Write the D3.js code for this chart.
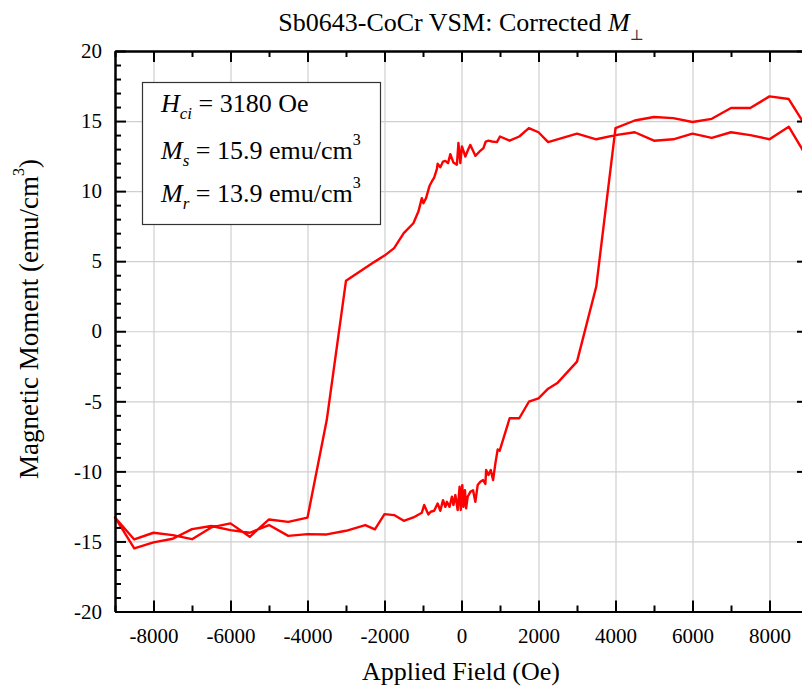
<!DOCTYPE html>
<html>
<head>
<meta charset="utf-8">
<script src="https://cdn.jsdelivr.net/npm/d3@7/dist/d3.min.js"></script>
<style>
  html, body { margin: 0; padding: 0; background: #fff; }
  svg { display: block; }
  text { font-family: "Liberation Serif", "Times New Roman", serif; fill: #000; }
</style>
</head>
<body>
<svg id="chart" width="802" height="688"></svg>
<script>
// Descending branch (+H -> -H)
const descField = [9000, 8500, 8000, 7500, 7000, 6500, 6000, 5500, 5000, 4500, 4000, 3500, 3000, 2250, 2000, 1750, 1500, 1250, 1000,
  920, 790, 700, 630, 570, 470, 360, 230, 170, 100, 10, -30, -80, -120, -210, -290, -350, -420, -480, -550, -620, -640,
  -710, -770, -830, -860, -920, -990, -1030, -1120, -1250, -1500, -1750, -2000, -2250, -3000, -3500, -4000,
  -4500, -5000, -5500, -6000, -6500, -7000, -7500, -8000, -8500, -9000];
const descMoment = [12.3, 14.6, 13.7, 14.0, 14.2, 13.8, 14.1, 13.7, 13.6, 14.2, 14.0, 13.7, 14.1, 13.5, 14.2, 14.5, 13.9, 13.6, 13.9,
  13.5, 13.54, 13.6, 13.54, 13.07, 12.83, 12.52, 13.3, 12.95, 12.47, 13.19, 12.0, 13.43, 11.88, 12.04, 12.64, 12.0, 12.16, 12.11, 11.71, 11.95, 11.57,
  10.97, 10.69, 10.38, 10.09, 9.5, 9.14, 9.5, 8.54, 7.71, 7.0, 5.93, 5.4, 4.97, 3.61, -6.34, -13.3,
  -13.6, -13.43, -14.67, -13.71, -14.0, -14.84, -14.55, -14.38, -14.86, -13.29];

// Ascending branch (-H -> +H)
const ascField = [-9000, -8500, -8000, -7500, -7000, -6500, -6000, -5500, -5000, -4500, -4000, -3500, -3000, -2500, -2250, -2000, -1750, -1500, -1250,
  -1030, -970, -860, -800, -710, -620, -550, -480, -420, -380, -310, -250, -210, -160, -100, -50, -20, 20, 50, 90, 120, 160,
  230, 300, 360, 420, 490, 560, 620, 640, 700, 760, 820, 880, 940, 990,
  1250, 1500, 1750, 2000, 2250, 2500, 3000, 3500, 4000, 4500, 5000, 5500, 6000, 6500, 7000, 7500, 8000, 8500, 9000];
const ascMoment = [-13.29, -15.5, -15.07, -14.81, -14.12, -13.9, -14.19, -14.38, -13.83, -14.6, -14.48, -14.5, -14.24, -13.83, -14.14, -13.05, -13.12, -13.53, -13.29,
  -12.95, -12.4, -13.07, -12.88, -12.81, -12.29, -12.81, -12.05, -12.53, -12.17, -12.53, -11.81, -12.41, -11.69, -12.76, -11.1, -12.76, -10.98, -12.53, -11.34, -12.64, -11.81,
  -11.46, -11.34, -12.17, -10.98, -10.74, -10.62, -10.9, -9.9, -10.26, -9.9, -10.62, -9.43, -8.43, -8.53,
  -6.21, -6.21, -5.03, -4.79, -4.1, -3.67, -2.17, 3.19, 14.5, 15.04, 15.29, 15.21, 14.93, 15.16, 15.93, 15.93, 16.76, 16.57, 14.38];

const xTicks = [-8000, -6000, -4000, -2000, 0, 2000, 4000, 6000, 8000];
const xMinorTicks = [-9000, -7000, -5000, -3000, -1000, 1000, 3000, 5000, 7000, 9000];
const yTicks = [-20, -15, -10, -5, 0, 5, 10, 15, 20];
const yMinorTicks = d3.range(-20, 21, 1).filter(v => v % 5 !== 0);

const titleText = "Sb0643-CoCr VSM: Corrected ";
const xTitle = "Applied Field (Oe)";
const yTitle = "Magnetic Moment (emu/cm";
const hciText = " = 3180 Oe";
const msText = " = 15.9 emu/cm";
const mrText = " = 13.9 emu/cm";

const svg = d3.select("#chart");
const plotL = 115, plotR = 808, plotT = 51, plotB = 611.5;

const x = d3.scaleLinear().domain([-9000, 9000]).range([plotL, plotR]);
const y = d3.scaleLinear().domain([-20, 20]).range([plotB, plotT]);

// grid
svg.append("g").attr("transform", `translate(0,${plotB})`)
  .call(d3.axisBottom(x).tickValues(xTicks).tickSize(-(plotB - plotT)).tickFormat(""))
  .call(g => g.select(".domain").remove())
  .call(g => g.selectAll("line").attr("stroke", "#cfcfcf").attr("stroke-width", 1.2));
svg.append("g").attr("transform", `translate(${plotL},0)`)
  .call(d3.axisLeft(y).tickValues(yTicks).tickSize(-(plotR - plotL)).tickFormat(""))
  .call(g => g.select(".domain").remove())
  .call(g => g.selectAll("line").attr("stroke", "#cfcfcf").attr("stroke-width", 1.2));

// hysteresis loop
const line = d3.line().x(d => x(d[0])).y(d => y(d[1]));
const descPts = descField.map((f, i) => [f, descMoment[i]]);
const ascPts = ascField.map((f, i) => [f, ascMoment[i]]);
svg.append("path").datum(descPts.concat(ascPts))
  .attr("d", line).attr("fill", "none").attr("stroke", "#ff0000")
  .attr("stroke-width", 2.4).attr("stroke-linejoin", "round");

// frame with inward ticks
function styleAxis(g) {
  g.select(".domain").attr("stroke", "#000").attr("stroke-width", 2);
  g.selectAll(".tick line").attr("stroke", "#000").attr("stroke-width", 2);
}
const fmt = d => String(d);
svg.append("g").attr("transform", `translate(0,${plotB})`)
  .call(d3.axisBottom(x).tickValues(xTicks).tickSizeInner(-11).tickSizeOuter(0).tickPadding(17).tickFormat(fmt))
  .call(styleAxis)
  .call(g => g.selectAll("text").attr("font-size", 21).attr("font-family", "Liberation Serif"));
svg.append("g").attr("transform", `translate(0,${plotB})`)
  .call(d3.axisBottom(x).tickValues(xMinorTicks).tickSizeInner(-6).tickSizeOuter(0).tickFormat(""))
  .call(styleAxis);
svg.append("g").attr("transform", `translate(0,${plotT})`)
  .call(d3.axisTop(x).tickValues(xTicks).tickSizeInner(-11).tickSizeOuter(0).tickFormat(""))
  .call(styleAxis);
svg.append("g").attr("transform", `translate(0,${plotT})`)
  .call(d3.axisTop(x).tickValues(xMinorTicks).tickSizeInner(-6).tickSizeOuter(0).tickFormat(""))
  .call(styleAxis);
svg.append("g").attr("transform", `translate(${plotL},0)`)
  .call(d3.axisLeft(y).tickValues(yTicks).tickSizeInner(-11).tickSizeOuter(0).tickPadding(13).tickFormat(fmt))
  .call(styleAxis)
  .call(g => g.selectAll("text").attr("font-size", 21).attr("font-family", "Liberation Serif"));
svg.append("g").attr("transform", `translate(${plotL},0)`)
  .call(d3.axisLeft(y).tickValues(yMinorTicks).tickSizeInner(-6).tickSizeOuter(0).tickFormat(""))
  .call(styleAxis);
svg.append("g").attr("transform", `translate(${plotR},0)`)
  .call(d3.axisRight(y).tickValues(yTicks).tickSizeInner(-11).tickSizeOuter(0).tickFormat(""))
  .call(styleAxis);
svg.append("g").attr("transform", `translate(${plotR},0)`)
  .call(d3.axisRight(y).tickValues(yMinorTicks).tickSizeInner(-6).tickSizeOuter(0).tickFormat(""))
  .call(styleAxis);

// parameter box
svg.append("rect").attr("x", 142.5).attr("y", 82.5).attr("width", 238).attr("height", 142)
  .attr("fill", "#fff").attr("stroke", "#333").attr("stroke-width", 1.2);

function paramLine(yb, sym, sub, rest, sup) {
  const t = svg.append("text").attr("x", 161).attr("y", yb).attr("font-size", 26);
  t.append("tspan").attr("font-style", "italic").text(sym);
  t.append("tspan").attr("font-style", "italic").attr("font-size", 17).attr("dy", 7).text(sub);
  t.append("tspan").attr("dy", -7).text(rest);
  if (sup) t.append("tspan").attr("font-size", 16).attr("dy", -14).text(sup);
}
paramLine(112, "H", "ci", hciText, null);
paramLine(159, "M", "s", msText, "3");
paramLine(202, "M", "r", mrText, "3");

// title
const title = svg.append("text").attr("x", 461).attr("y", 31).attr("font-size", 26).attr("text-anchor", "middle");
title.append("tspan").text(titleText);
title.append("tspan").attr("font-style", "italic").text("M");
title.append("tspan").attr("font-size", 15).attr("dy", 9)
  .style("font-family", "'DejaVu Serif', 'DejaVu Sans', serif").style("fill", "#333").text("⊥");

// axis titles
svg.append("text").attr("x", 461).attr("y", 680).attr("font-size", 26).attr("text-anchor", "middle").text(xTitle);
const yt = svg.append("text").attr("transform", "translate(38,319) rotate(-90)")
  .attr("font-size", 27).attr("text-anchor", "middle");
yt.append("tspan").text(yTitle);
yt.append("tspan").attr("font-size", 16).attr("dy", -14).text("3");
yt.append("tspan").attr("font-size", 27).attr("dy", 14).text(")");
</script>
</body>
</html>
